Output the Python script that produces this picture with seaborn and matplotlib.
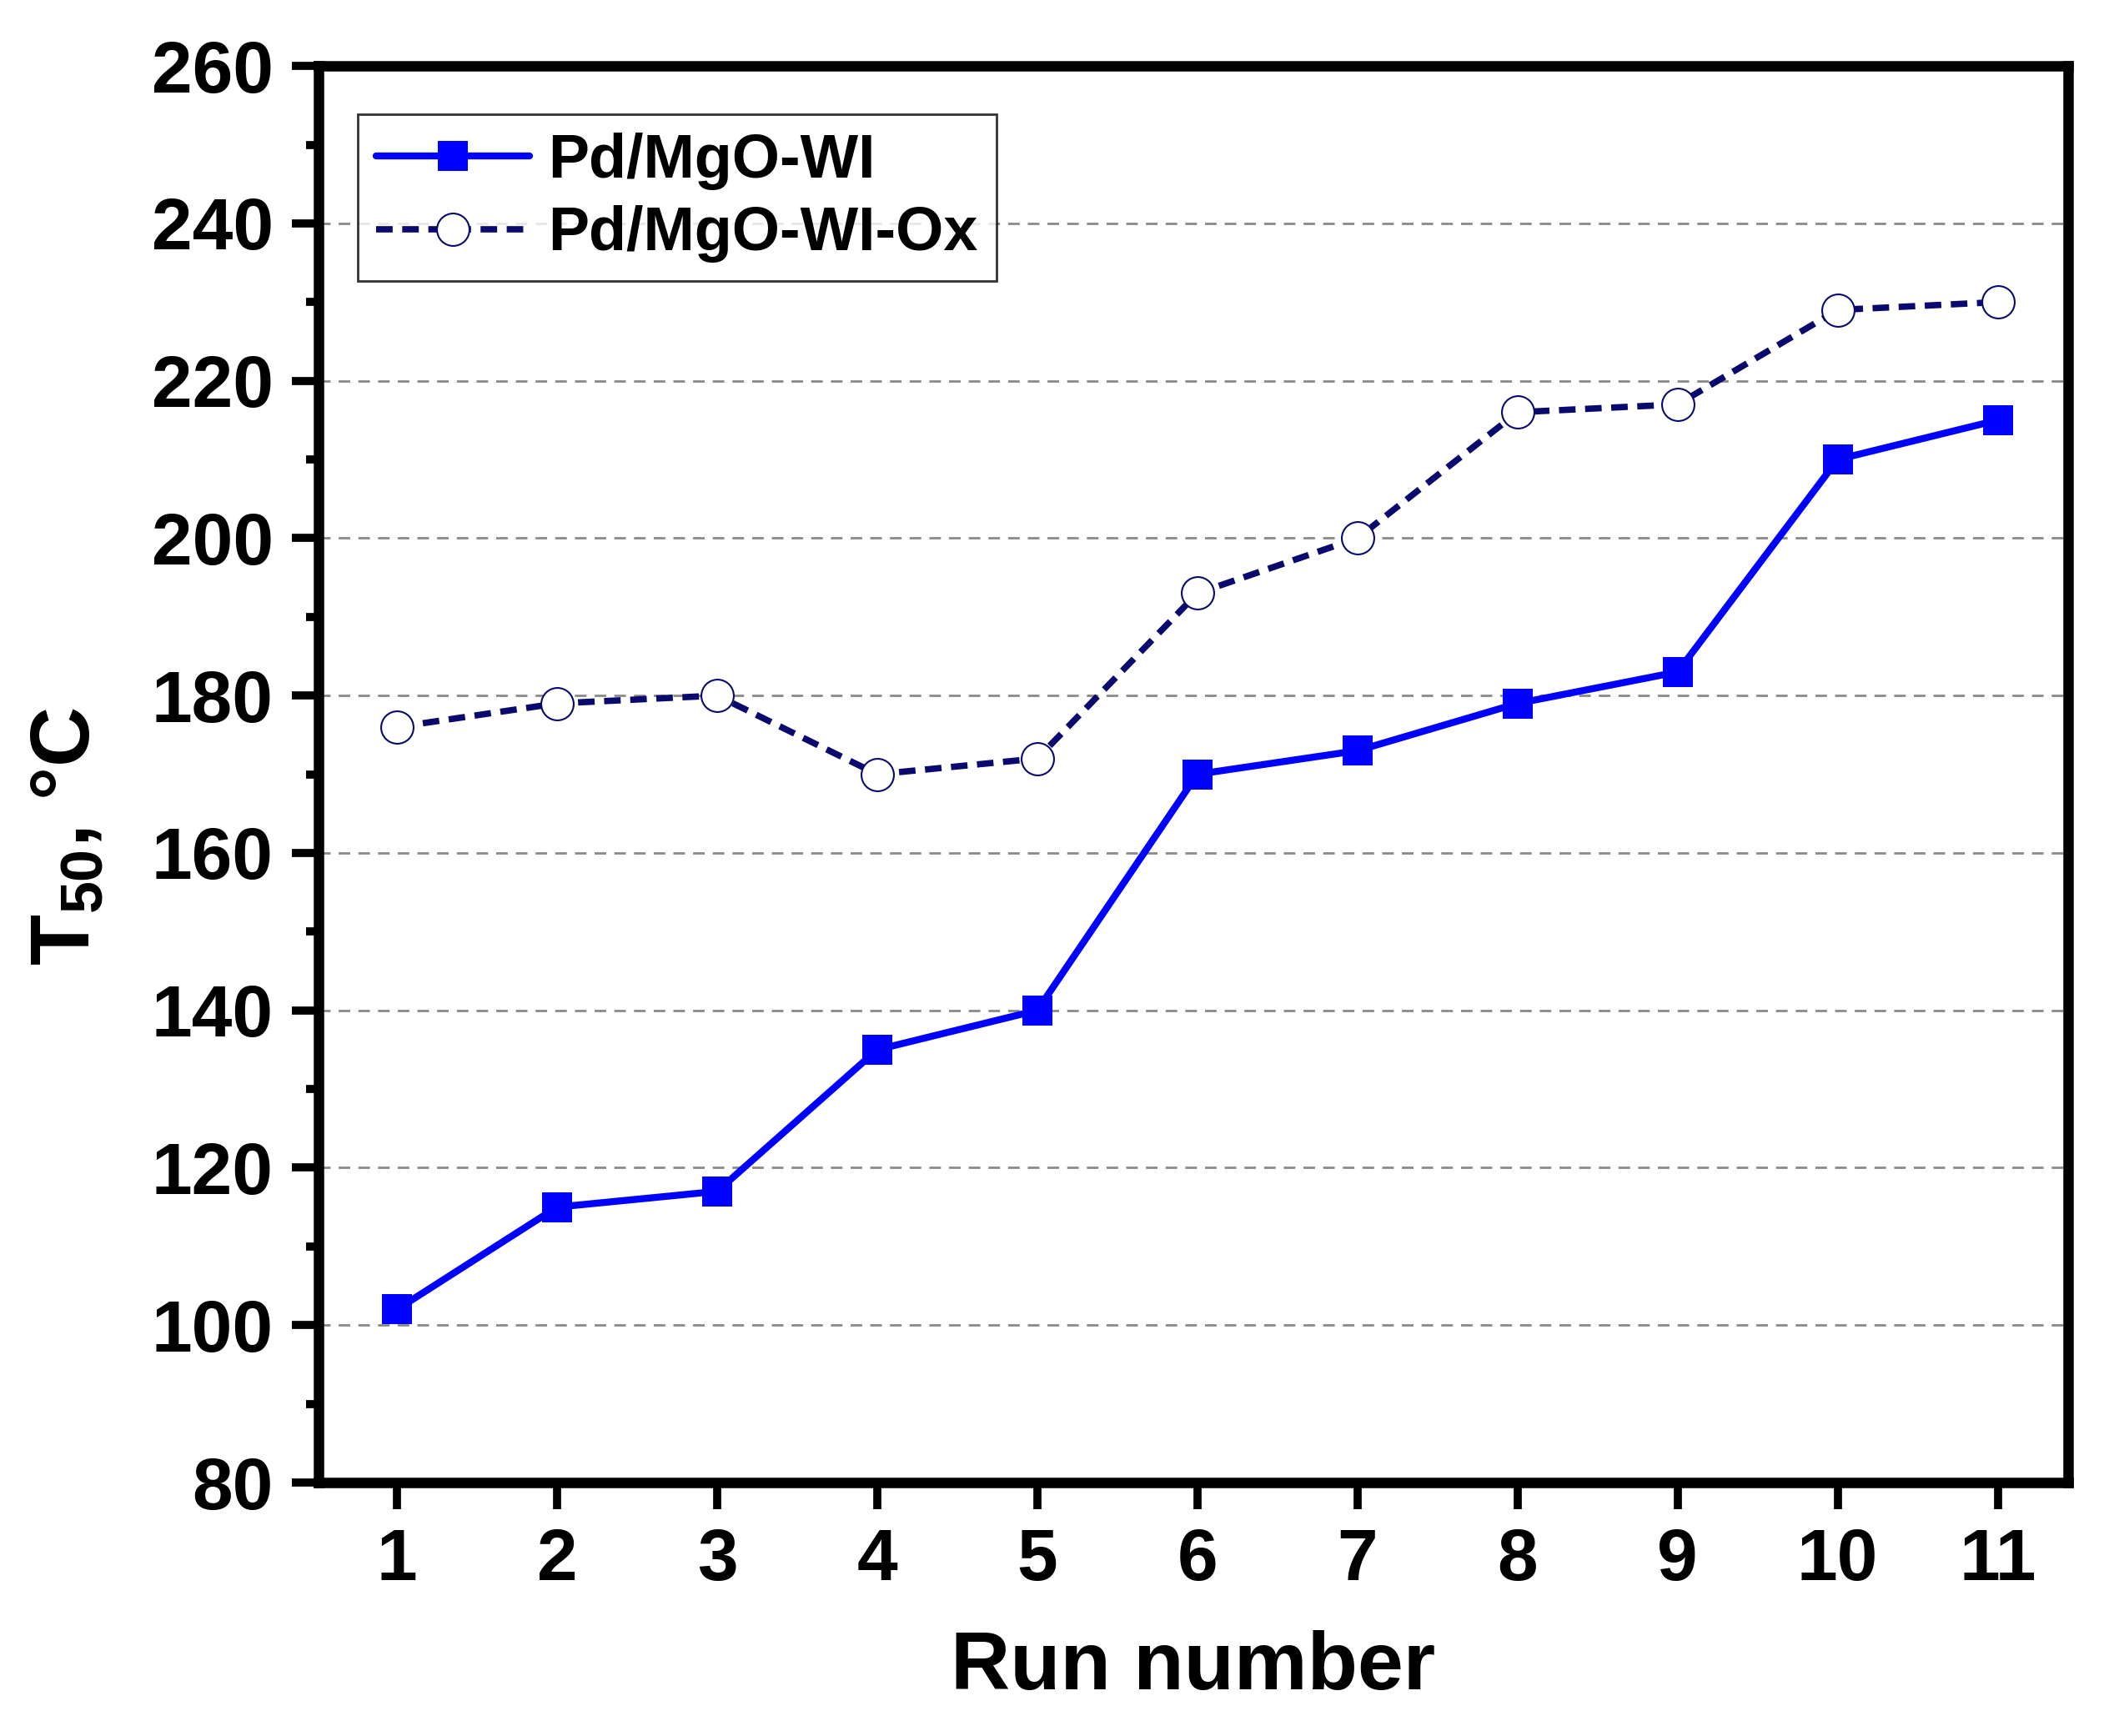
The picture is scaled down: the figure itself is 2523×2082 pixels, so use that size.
import numpy as np
import pandas as pd
import seaborn as sns
import matplotlib.pyplot as plt
from matplotlib.ticker import MultipleLocator

runs = [1, 2, 3, 4, 5, 6, 7, 8, 9, 10, 11]
t50_wi = [102, 115, 117, 135, 140, 170, 173, 179, 183, 210, 215]
t50_wi_ox = [176, 179, 180, 170, 172, 193, 200, 216, 217, 229, 230]
series_names = ["Pd/MgO-WI", "Pd/MgO-WI-Ox"]

sns.set_style("white")
plt.rcParams['font.family'] = ['Liberation Sans', 'DejaVu Sans']
plt.rcParams['font.weight'] = 'bold'
plt.rcParams['text.color'] = 'black'
plt.rcParams['axes.labelcolor'] = 'black'
plt.rcParams['xtick.color'] = 'black'
plt.rcParams['ytick.color'] = 'black'
plt.rcParams['mathtext.fontset'] = 'custom'
plt.rcParams['mathtext.bf'] = 'Liberation Sans:bold'
plt.rcParams['mathtext.rm'] = 'Liberation Sans:bold'

df = pd.DataFrame({"run": runs, "wi": t50_wi, "wi_ox": t50_wi_ox})

fig, ax = plt.subplots(figsize=(25.23, 20.82), dpi=100)
fig.subplots_adjust(left=0.1514, right=0.983, top=0.962, bottom=0.146)

ax.set_ylim(80, 260)
ax.set_xlim(0.51, 11.44)
ax.yaxis.set_major_locator(MultipleLocator(20))
ax.yaxis.set_minor_locator(MultipleLocator(10))
ax.xaxis.set_major_locator(MultipleLocator(1))
ax.grid(axis="y", which="major", color="#8a8a8a", linestyle=(0, (5, 3.5)), linewidth=2)
ax.set_axisbelow(True)

sns.lineplot(data=df, x="run", y="wi", ax=ax, color="#0000ff", linewidth=6,
             marker="s", markersize=26, markeredgewidth=0, label=series_names[0])
sns.lineplot(data=df, x="run", y="wi_ox", ax=ax, color="#0a0a6e", linewidth=5.5,
             linestyle=(0, (2.6, 1.5)), marker="o", markersize=28,
             markerfacecolor="white", markeredgecolor="#0a0a6e", markeredgewidth=1.5,
             label=series_names[1])

for s in ax.spines.values():
    s.set_linewidth(9)
    s.set_color("black")

ax.tick_params(axis="both", which="major", direction="out", length=23, width=7,
               labelsize=63, pad=16, color="black", labelcolor="black",
               bottom=True, left=True)
ax.tick_params(axis="y", which="minor", direction="out", length=11, width=7,
               color="black", left=True)
for lab in ax.get_xticklabels() + ax.get_yticklabels():
    lab.set_fontweight("bold")

ax.set_xlabel("Run number", fontsize=71, fontweight="bold", labelpad=30)
ax.set_ylabel(r"T$_\mathbf{50}$, °C", fontsize=72, fontweight="bold")
ax.yaxis.set_label_coords(-0.121, 0.456)

leg = ax.legend(loc="upper left", bbox_to_anchor=(0.0224, 0.966), borderaxespad=0,
                fontsize=53, frameon=True, fancybox=False, handlelength=2.5,
                handletextpad=0.3, borderpad=0.3, labelspacing=0.25)
leg.get_frame().set_edgecolor("black")
leg.get_frame().set_linewidth(2)
for t in leg.get_texts():
    t.set_fontweight("bold")
    t.set_color("black")

plt.savefig("out.png", dpi=100)
